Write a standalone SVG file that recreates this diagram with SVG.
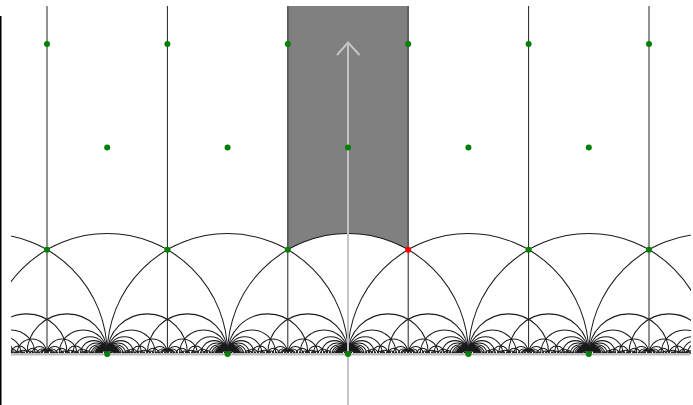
<svg xmlns="http://www.w3.org/2000/svg" width="693" height="405" viewBox="0 0 693 405">
<defs>
<style>
.t{fill:none;stroke:#1a1a1a;stroke-width:0.0085}
.v{fill:none;stroke:#222;stroke-width:1}
.dot{fill:#008000}
.red{fill:#ff0000}
.arrow{fill:none;stroke:#c4c4c4;stroke-width:2}
.axis{fill:none;stroke:#bdbdbd;stroke-width:2.5}
.band{fill:none;stroke:#222;stroke-width:1.6;stroke-dasharray:2 1}
</style>
<clipPath id="clip"><rect x="11" y="0" width="680" height="355"/></clipPath>
<path id="half" class="t" d="M0 0A.33333 .33333 0 0 1 .66667 0M0 0A.2 .2 0 0 1 .4 0M0 0A.142857 .142857 0 0 1 .285714 0M0 0A.111111 .111111 0 0 1 .222222 0M0 0A.090909 .090909 0 0 1 .181818 0M0 0A.076923 .076923 0 0 1 .153846 0M0 0A.066667 .066667 0 0 1 .133333 0M0 0A.058824 .058824 0 0 1 .117647 0M0 0A.052632 .052632 0 0 1 .105263 0M0 0A.047619 .047619 0 0 1 .095238 0M0 0A.043478 .043478 0 0 1 .086957 0M0 0A.04 .04 0 0 1 .08 0M0 0A.037037 .037037 0 0 1 .074074 0M0 0A.034483 .034483 0 0 1 .068966 0M0 0A.032258 .032258 0 0 1 .064516 0M0 0A.030303 .030303 0 0 1 .060606 0M0 0A.028571 .028571 0 0 1 .057143 0M0 0A.027027 .027027 0 0 1 .054054 0M0 0A.025641 .025641 0 0 1 .051282 0M.5 0A.125 .125 0 0 1 .75 0M.5 0A.0625 .0625 0 0 1 .625 0M.5 0A.041667 .041667 0 0 1 .583333 0M.5 0A.03125 .03125 0 0 1 .5625 0M.5 0A.025 .025 0 0 1 .55 0M.333333 0A.047619 .047619 0 0 1 .428571 0M.333333 0A.025641 .025641 0 0 1 .384615 0M.666667 0A.066667 .066667 0 0 1 .8 0M.666667 0A.030303 .030303 0 0 1 .727273 0M.25 0A.025 .025 0 0 1 .3 0M.75 0A.041667 .041667 0 0 1 .833333 0M.8 0A.028571 .028571 0 0 1 .857143 0"/>
<g id="cell">
<use href="#half"/>
<use href="#half" transform="translate(1 0) scale(-1 1)"/>
<path class="t" d="M0 0A1 1 0 0 1 2 0"/>
</g>
</defs>
<rect width="693" height="405" fill="#fff"/>
<rect x="0" y="16" width="1.5" height="389" fill="#000"/>
<g id="fundamental-domain">
<path d="M287.8 6H408.2V249.7A120.4 120.4 0 0 0 287.8 249.7Z" fill="#808080"/>
</g>
<g id="connectors">
<g clip-path="url(#clip)">
<g transform="translate(348 354) scale(120.4)">
<use href="#cell" x="-4"/>
<use href="#cell" x="-3"/>
<use href="#cell" x="-2"/>
<use href="#cell" x="-1"/>
<use href="#cell" x="0"/>
<use href="#cell" x="1"/>
<use href="#cell" x="2"/>
</g>
<path class="v" d="M47 6V354M167.4 6V354M287.8 6V354M408.2 6V354M528.6 6V354M649 6V354"/>
</g>
<path class="band" d="M11 352.2H690"/>
<path class="axis" d="M11 354.2H690"/>
<path class="arrow" d="M348 43V405M337 55L348 42.5L359.5 55"/>
</g>
<g id="nodes">
<g id="top-row">
<circle class="dot" cx="47" cy="44" r="3"/>
<circle class="dot" cx="167.4" cy="44" r="3"/>
<circle class="dot" cx="287.8" cy="44" r="3"/>
<circle class="dot" cx="408.2" cy="44" r="3"/>
<circle class="dot" cx="528.6" cy="44" r="3"/>
<circle class="dot" cx="649" cy="44" r="3"/>
</g>
<g id="middle-row">
<circle class="dot" cx="107.2" cy="147.6" r="3"/>
<circle class="dot" cx="227.6" cy="147.6" r="3"/>
<circle class="dot" cx="348" cy="147.6" r="3"/>
<circle class="dot" cx="468.4" cy="147.6" r="3"/>
<circle class="dot" cx="588.8" cy="147.6" r="3"/>
</g>
<g id="corner-row">
<circle class="dot" cx="47" cy="249.8" r="3"/>
<circle class="dot" cx="167.4" cy="249.8" r="3"/>
<circle class="dot" cx="287.8" cy="249.8" r="3"/>
<circle class="red" cx="408.2" cy="249.8" r="3"/>
<circle class="dot" cx="528.6" cy="249.8" r="3"/>
<circle class="dot" cx="649" cy="249.8" r="3"/>
</g>
<g id="cusp-row">
<circle class="dot" cx="107.2" cy="354" r="3"/>
<circle class="dot" cx="227.6" cy="354" r="3"/>
<circle class="dot" cx="348" cy="354" r="3"/>
<circle class="dot" cx="468.4" cy="354" r="3"/>
<circle class="dot" cx="588.8" cy="354" r="3"/>
</g>
</g>
</svg>
